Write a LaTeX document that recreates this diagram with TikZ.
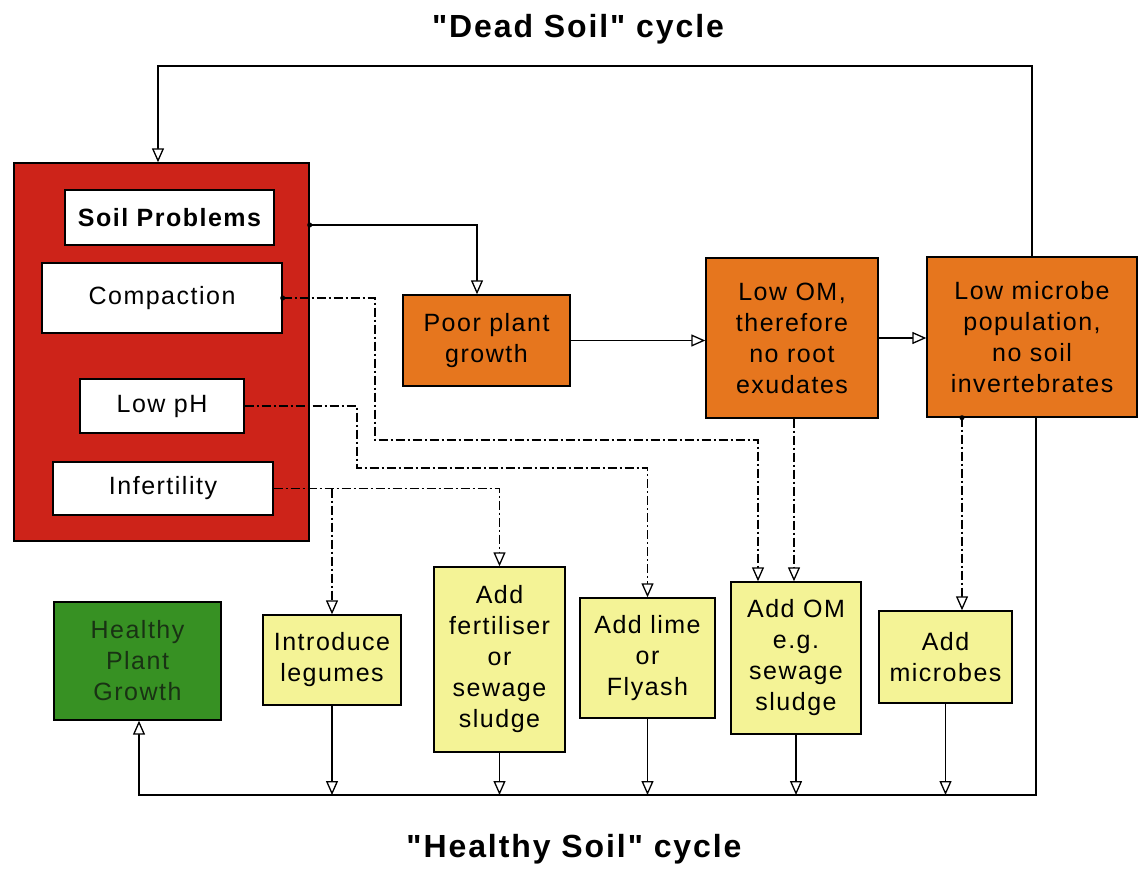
\documentclass[tikz,border=0pt]{standalone}
\usepackage{fontspec}
\setmainfont{Liberation Sans}[LetterSpace=6, Ligatures=TeXOff]
\usetikzlibrary{arrows.meta}
\definecolor{soilred}{RGB}{205,35,25}
\definecolor{soilorange}{RGB}{230,118,30}
\definecolor{soilyellow}{RGB}{244,243,150}
\definecolor{soilgreen}{RGB}{55,145,35}
\definecolor{darkgreentext}{RGB}{25,50,20}
\tikzset{
  box/.style={draw=black, line width=1.4pt, inner sep=0pt, align=center,
    font=\fontsize{25}{31}\selectfont},
  whitebox/.style={box, fill=white},
  orangebox/.style={box, fill=soilorange},
  yellowbox/.style={box, fill=soilyellow},
  greenbox/.style={box, fill=soilgreen, text=darkgreentext},
  redbox/.style={box, fill=soilred},
  titletext/.style={font=\fontsize{32}{38}\selectfont\bfseries, anchor=base, inner sep=0pt},
  conn/.style={line width=1.6pt, -{Triangle[length=14pt,width=12pt,fill=white,line width=1.3pt]}},
  dconn/.style={conn, dash pattern=on 9pt off 3pt on 2pt off 3pt},
}
\begin{document}
\begin{tikzpicture}[x=1pt,y=-1pt]
\useasboundingbox (0,0) rectangle (1139,868);

% titles
\node[titletext] (t1) at (578,37) {"Dead Soil" cycle};
\node[titletext] (t2) at (574,857) {"Healthy Soil" cycle};

% soil problems block
\node[redbox, minimum width=295pt, minimum height=378pt] (red) at (161.5,352) {};
\node[whitebox, minimum width=209pt, minimum height=55pt, font=\fontsize{25}{31}\selectfont\bfseries] (sp) at (169.5,217.5) {Soil Problems};
\node[whitebox, minimum width=240pt, minimum height=70pt] (comp) at (162,298) {Compaction};
\node[whitebox, minimum width=164pt, minimum height=54pt] (lowph) at (162,406) {Low pH};
\node[whitebox, minimum width=220pt, minimum height=53pt] (infert) at (163,488.5) {Infertility};

% dead soil cycle boxes
\node[orangebox, minimum width=167pt, minimum height=91pt] (poor) at (486.5,340.5) {Poor plant\\growth};
\node[orangebox, minimum width=172pt, minimum height=160pt] (lowom) at (792,338) {Low OM,\\therefore\\no root\\exudates};
\node[orangebox, minimum width=210pt, minimum height=160pt] (lowmic) at (1032,337) {Low microbe\\population,\\no soil\\invertebrates};

% remedies
\node[greenbox, minimum width=167pt, minimum height=118pt] (healthy) at (137.5,661) {Healthy\\Plant\\Growth};
\node[yellowbox, minimum width=138pt, minimum height=90pt] (intro) at (332,660) {Introduce\\legumes};
\node[yellowbox, minimum width=131pt, minimum height=185pt] (fert) at (499.5,659.5) {Add\\fertiliser\\or\\sewage\\sludge};
\node[yellowbox, minimum width=135pt, minimum height=120pt] (lime) at (647.5,658) {Add lime\\or\\Flyash};
\node[yellowbox, minimum width=130pt, minimum height=152pt] (addom) at (796,658) {Add OM\\e.g.\\sewage\\sludge};
\node[yellowbox, minimum width=133pt, minimum height=92pt] (addmic) at (945.5,657) {Add\\microbes};

% dead soil cycle connectors
\draw[conn] (red.east |- 0,225) -| ([xshift=-9.5pt]poor.north);
\fill (red.east |- 0,225) circle (2.5pt);
\draw[conn] (poor.east) -- (lowom.west |- poor.east);
\draw[conn] (lowom.east) -- (lowmic.west |- lowom.east);
\draw[conn] (lowmic.north) -- (lowmic.north |- 0,66) -| ([xshift=-3.5pt]red.north);

% healthy cycle loop
\draw[conn] ([xshift=4pt]lowmic.south) |- ([xshift=1.5pt]healthy.south |- 0,795) -- ([xshift=1.5pt]healthy.south);
\draw[conn] (intro.south) -- (intro.south |- 0,795);
\draw[conn] (fert.south) -- (fert.south |- 0,795);
\draw[conn] (lime.south) -- (lime.south |- 0,795);
\draw[conn] (addom.south) -- (addom.south |- 0,795);
\draw[conn] (addmic.south) -- (addmic.south |- 0,795);

% remedy connectors (dash-dot)
\draw[dconn] (comp.east) -| (375,440) -| ([xshift=-38pt]addom.north);
\fill (comp.east) circle (2.5pt);
\draw[dconn] (lowph.east) -| (357,468) -| (lime.north);
\draw[dconn] (infert.east) -| (fert.north);
\draw[dconn] (intro.north |- infert.east) -- (intro.north);
\draw[dconn] ([xshift=2pt]lowom.south) -- ([xshift=-2pt]addom.north);
\draw[dconn] ([xshift=-70pt]lowmic.south) -- ([xshift=-70pt]lowmic.south |- addmic.north);
\fill ([xshift=-70pt]lowmic.south) circle (2.5pt);
\end{tikzpicture}
\end{document}
